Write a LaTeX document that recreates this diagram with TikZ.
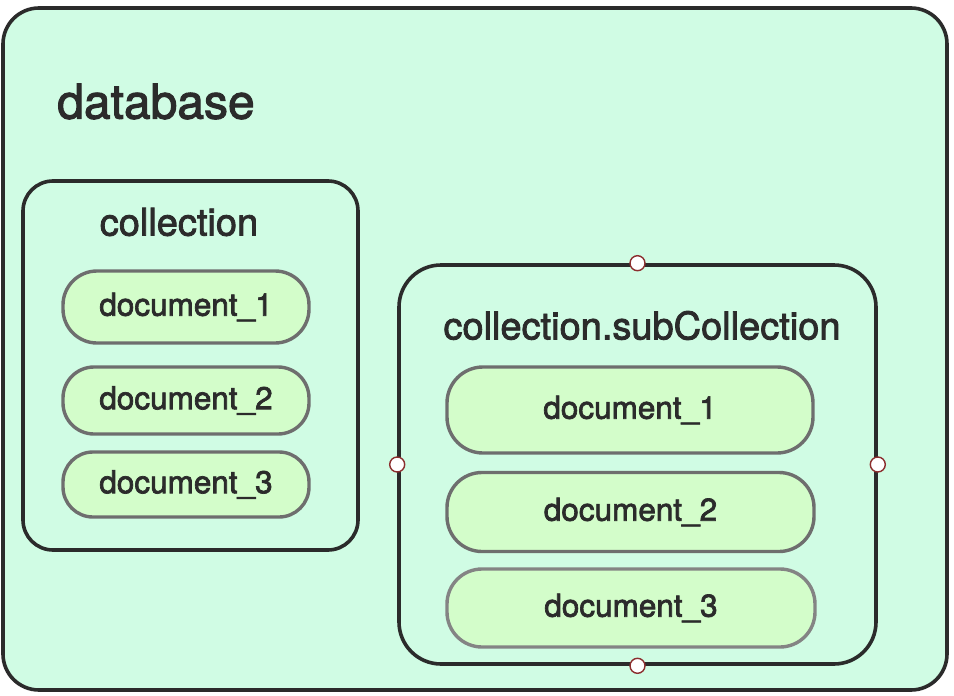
\documentclass[tikz,border=0pt]{standalone}
\usepackage{fontspec}
\setmainfont{TeX Gyre Heros}
\newfontfamily\medfont{TeX Gyre Heros}[FakeBold=2.2]
\definecolor{mint}{HTML}{D0FCE4}
\definecolor{docfill}{HTML}{D3FDCA}
\definecolor{ink}{HTML}{2B2B2B}
\definecolor{docline}{HTML}{6E6E6E}
\definecolor{handle}{HTML}{8B2E2E}
\begin{document}
\begin{tikzpicture}[x=1pt,y=-1pt,
  container/.style={draw=ink,line width=3.6pt,fill=mint,inner sep=0pt},
  docbox/.style={draw=docline,line width=3.4pt,fill=docfill,inner sep=0pt,text=ink,font=\medfont\fontsize{31.5}{36}\selectfont},
  title/.style={text=ink,inner sep=0pt},
  handlept/.style={circle,draw=handle,line width=1.4pt,fill=white,minimum size=15pt,inner sep=0pt}]
\useasboundingbox (0,0) rectangle (954,696);
\fill[white] (0,0) rectangle (954,696);
% database
\node[container,rounded corners=36pt,minimum width=944pt,minimum height=682pt] (db) at (475,349) {};
\node[title,font=\medfont\fontsize{48}{56}\selectfont] (dbl) at (156,101.5) {database};
% left collection
\node[container,rounded corners=30pt,minimum width=335pt,minimum height=369pt] (col) at (190.5,365.5) {};
\node[title,font=\medfont\fontsize{38}{44}\selectfont] (coll) at (179,222) {collection};
\node[docbox,rounded corners=34pt,minimum width=246pt,minimum height=72pt] (la) at (186,307) {document\_1};
\node[docbox,rounded corners=31pt,minimum width=246pt,minimum height=67pt] (lb) at (186,400.5) {document\_2};
\node[docbox,rounded corners=30pt,minimum width=246pt,minimum height=65pt] (lc) at (186,484.5) {document\_3};
% right subcollection
\node[container,rounded corners=42pt,minimum width=477pt,minimum height=399pt] (sub) at (637.5,464.5) {};
\node[title,font=\medfont\fontsize{38}{44}\selectfont] (subl) at (642,325.5) {collection.subCollection};
\node[docbox,rounded corners=36pt,minimum width=366pt,minimum height=86pt] (ra) at (630,410) {document\_1};
\node[docbox,rounded corners=35pt,minimum width=367pt,minimum height=79pt] (rb) at (630.5,512) {document\_2};
\node[docbox,draw=docline!85,rounded corners=35pt,minimum width=368pt,minimum height=78pt] (rc) at (631,608) {document\_3};
% handles
\node[handlept] (ht) at (sub.north) {};
\node[handlept] (hb) at (sub.south) {};
\node[handlept] (hl) at (sub.west) {};
\node[handlept] (hr) at (sub.east) {};
\end{tikzpicture}
\end{document}
